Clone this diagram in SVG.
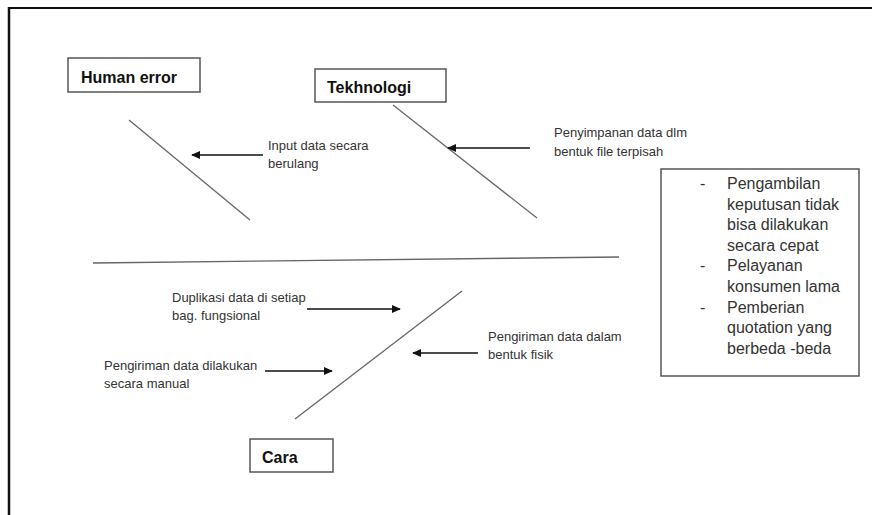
<svg xmlns="http://www.w3.org/2000/svg" width="872" height="515" viewBox="0 0 872 515">
<defs>
<style>
.box{fill:#fff;stroke:#555;stroke-width:1.5}
.title{font-family:"Liberation Sans",Arial,sans-serif;font-weight:bold;font-size:16px;fill:#111}
.lbl{font-family:"Liberation Sans",Arial,sans-serif;font-size:13px;fill:#333}
.eff{font-family:"Liberation Sans",Arial,sans-serif;font-size:16px;fill:#333}
.bone{stroke:#666;stroke-width:1.3;fill:none}
.arr{stroke:#111;stroke-width:1.3;fill:none;marker-end:url(#ah)}
</style>
<marker id="ah" viewBox="0 0 10 10" refX="9" refY="5" markerWidth="9" markerHeight="8" markerUnits="userSpaceOnUse" orient="auto" preserveAspectRatio="none">
<path d="M0,0 L10,5 L0,10 Z" fill="#111"/>
</marker>
</defs>
<rect width="872" height="515" fill="#fff"/>
<g id="frame">
<line x1="9" y1="8" x2="872" y2="8" stroke="#111" stroke-width="2"/>
<line x1="9" y1="7" x2="9" y2="515" stroke="#111" stroke-width="2.5"/>
</g>
<g id="connectors">
<line class="bone" x1="93" y1="263" x2="619" y2="257"/>
<line class="bone" x1="129" y1="120" x2="250" y2="220"/>
<line class="bone" x1="393" y1="105" x2="537" y2="218"/>
<line class="bone" x1="462" y1="291" x2="295" y2="419"/>
<line class="arr" x1="263" y1="155" x2="192" y2="155"/>
<line class="arr" x1="530" y1="148" x2="448" y2="148"/>
<line class="arr" x1="307" y1="309" x2="400" y2="309"/>
<line class="arr" x1="265" y1="371" x2="332" y2="371"/>
<line class="arr" x1="478" y1="353" x2="413" y2="353"/>
</g>
<g id="human-error">
<rect class="box" x="68" y="58" width="132" height="34"/>
<text class="title" x="81" y="83">Human error</text>
</g>
<g id="tekhnologi">
<rect class="box" x="315" y="69" width="131" height="33"/>
<text class="title" x="327" y="93">Tekhnologi</text>
</g>
<g id="cara">
<rect class="box" x="250" y="439" width="83" height="33"/>
<text class="title" x="262" y="463">Cara</text>
</g>
<g id="label-input">
<text class="lbl" x="268" y="150">Input data secara</text>
<text class="lbl" x="268" y="168">berulang</text>
</g>
<g id="label-penyimpanan">
<text class="lbl" x="554" y="137">Penyimpanan data dlm</text>
<text class="lbl" x="554" y="156">bentuk file terpisah</text>
</g>
<g id="label-duplikasi">
<text class="lbl" x="172" y="302">Duplikasi data di setiap</text>
<text class="lbl" x="172" y="320">bag.  fungsional</text>
</g>
<g id="label-manual">
<text class="lbl" x="104" y="370">Pengiriman data dilakukan</text>
<text class="lbl" x="104" y="388">secara manual</text>
</g>
<g id="label-fisik">
<text class="lbl" x="488" y="341">Pengiriman data dalam</text>
<text class="lbl" x="488" y="359">bentuk fisik</text>
</g>
<g id="effect">
<rect class="box" x="661" y="169" width="198" height="207"/>
<text class="eff" x="700" y="189">-</text>
<text class="eff" x="727" y="189">Pengambilan</text>
<text class="eff" x="727" y="210">keputusan tidak</text>
<text class="eff" x="727" y="230">bisa dilakukan</text>
<text class="eff" x="727" y="251">secara cepat</text>
<text class="eff" x="700" y="271">-</text>
<text class="eff" x="727" y="271">Pelayanan</text>
<text class="eff" x="727" y="292">konsumen lama</text>
<text class="eff" x="700" y="313">-</text>
<text class="eff" x="727" y="313">Pemberian</text>
<text class="eff" x="727" y="333">quotation yang</text>
<text class="eff" x="727" y="354">berbeda -beda</text>
</g>
</svg>
